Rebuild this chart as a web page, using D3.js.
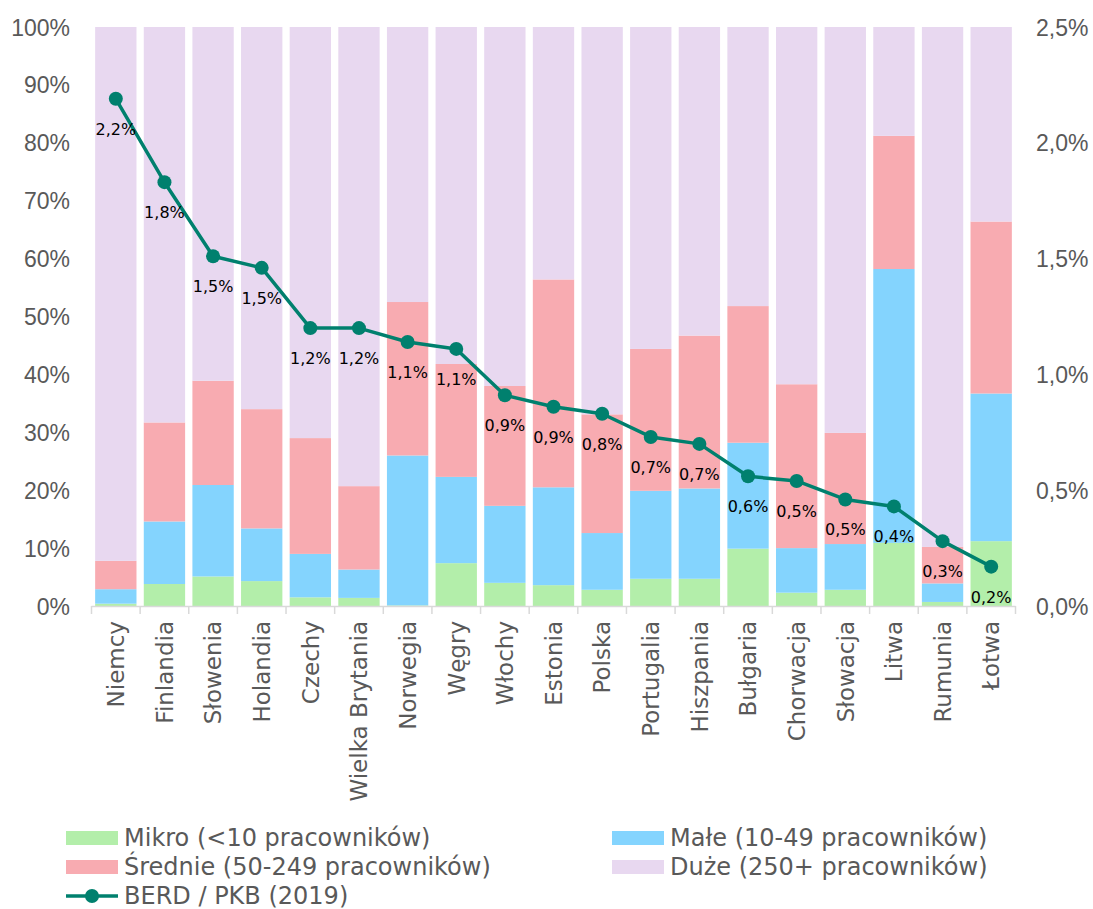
<!DOCTYPE html>
<html lang="pl">
<head>
<meta charset="utf-8">
<script src="https://cdn.jsdelivr.net/npm/d3@7"></script>
<style>
  html, body { margin: 0; padding: 0; background: #ffffff; }
  svg { display: block; }
</style>
</head>
<body>
<svg id="chart" width="1093" height="909"></svg>
<script>
// Kraje uporządkowane malejąco według BERD / PKB
const countries = ["Niemcy", "Finlandia", "Słowenia", "Holandia", "Czechy", "Wielka Brytania",
  "Norwegia", "Węgry", "Włochy", "Estonia", "Polska", "Portugalia", "Hiszpania", "Bułgaria",
  "Chorwacja", "Słowacja", "Litwa", "Rumunia", "Łotwa"];

// Udział nakładów BERD według wielkości przedsiębiorstwa (%)
const mikro   = [0.4, 3.8, 5.1, 4.3, 1.5, 1.4, 0.1, 7.4, 4.0, 3.6, 2.8, 4.7, 4.7, 9.9, 2.3, 2.8, 10.9, 0.7, 11.2];
const male    = [2.5, 10.8, 15.8, 9.1, 7.5, 4.9, 25.9, 14.9, 13.3, 16.9, 9.8, 15.2, 15.6, 18.3, 7.7, 7.9, 47.3, 3.2, 25.5];
const srednie = [4.9, 17.1, 18.0, 20.6, 20.0, 14.4, 26.5, 19.5, 20.7, 35.9, 20.5, 24.5, 26.4, 23.6, 28.3, 19.2, 23.0, 6.3, 29.7];
const duze    = [92.2, 68.3, 61.1, 66.0, 71.0, 79.3, 47.5, 58.2, 62.0, 43.6, 66.9, 55.6, 53.3, 48.2, 61.7, 70.1, 18.8, 89.8, 33.6];

// BERD / PKB (2019), % — oś prawa
const berd = [2.19, 1.83, 1.51, 1.46, 1.20, 1.20, 1.14, 1.11, 0.91, 0.86, 0.83, 0.73, 0.70, 0.56, 0.54, 0.46, 0.43, 0.28, 0.17];

const leftTicks  = [0, 10, 20, 30, 40, 50, 60, 70, 80, 90, 100];
const rightTicks = [0, 0.5, 1.0, 1.5, 2.0, 2.5];

const seriesNames = ["Mikro (<10 pracowników)", "Małe (10-49 pracowników)",
  "Średnie (50-249 pracowników)", "Duże (250+ pracowników)"];
const lineName = "BERD / PKB (2019)";

const seriesKeys = ["mikro", "male", "srednie", "duze"];
const colors = { mikro: "#b3eeaa", male: "#84d4fe", srednie: "#f8abb1", duze: "#e8d8f0" };
const lineColor = "#00806e";
const axisText = "#595959";

const table = countries.map((c, i) => ({
  country: c, mikro: mikro[i], male: male[i], srednie: srednie[i], duze: duze[i], berd: berd[i]
}));

const svg = d3.select("#chart");
const plot = { left: 91.5, right: 1015.5, top: 27, bottom: 606 };

const x = d3.scaleBand()
  .domain(countries)
  .range([plot.left, plot.right])
  .paddingInner(0.15)
  .paddingOuter(0.075);

const y = d3.scaleLinear().domain([0, 100]).range([plot.bottom, plot.top]);
const y2 = d3.scaleLinear().domain([0, 2.5]).range([plot.bottom, plot.top]);

const pl = d3.formatLocale({ decimal: ",", thousands: " ", grouping: [3], currency: ["", " zł"] });
const fmt1 = pl.format(".1f");

// Słupki skumulowane
const stacked = d3.stack().keys(seriesKeys)(table);
svg.append("g")
  .selectAll("g")
  .data(stacked)
  .join("g")
  .attr("fill", d => colors[d.key])
  .selectAll("rect")
  .data(d => d)
  .join("rect")
  .attr("x", d => x(d.data.country))
  .attr("width", x.bandwidth())
  .attr("y", d => y(d[1]))
  .attr("height", d => y(d[0]) - y(d[1]));

// Oś X: linia bazowa i znaczniki między kategoriami
const step = x.step();
const xAxisG = svg.append("g");
xAxisG.append("line")
  .attr("x1", plot.left).attr("x2", plot.right)
  .attr("y1", plot.bottom + 0.5).attr("y2", plot.bottom + 0.5)
  .attr("stroke", "#d9d9d9").attr("stroke-width", 1.5);
xAxisG.selectAll("line.tick")
  .data(d3.range(countries.length + 1))
  .join("line")
  .attr("class", "tick")
  .attr("x1", i => plot.left + i * step).attr("x2", i => plot.left + i * step)
  .attr("y1", plot.bottom).attr("y2", plot.bottom + 8)
  .attr("stroke", "#d9d9d9").attr("stroke-width", 1.5);

xAxisG.selectAll("text")
  .data(countries)
  .join("text")
  .attr("transform", d => `translate(${x(d) + x.bandwidth() / 2},${plot.bottom + 15}) rotate(-90)`)
  .attr("text-anchor", "end")
  .attr("dy", "0.36em")
  .attr("fill", axisText)
  .attr("font-family", "DejaVu Sans, Verdana, sans-serif")
  .attr("font-size", 23)
  .text(d => d);

// Oś lewa
const leftAxis = d3.axisLeft(y).tickValues(leftTicks).tickSize(0).tickPadding(0)
  .tickFormat(d => d + "%");
svg.append("g")
  .attr("transform", "translate(70,0)")
  .call(leftAxis)
  .call(g => g.select(".domain").remove())
  .call(g => g.selectAll("text")
    .attr("fill", axisText)
    .attr("font-family", "Liberation Sans, Arial, sans-serif")
    .attr("font-size", 23)
    .attr("dy", "0.35em"));

// Oś prawa
const rightAxis = d3.axisRight(y2).tickValues(rightTicks).tickSize(0).tickPadding(0)
  .tickFormat(d => fmt1(d) + "%");
svg.append("g")
  .attr("transform", "translate(1036,0)")
  .call(rightAxis)
  .call(g => g.select(".domain").remove())
  .call(g => g.selectAll("text")
    .attr("fill", axisText)
    .attr("font-family", "Liberation Sans, Arial, sans-serif")
    .attr("font-size", 23)
    .attr("dy", "0.35em"));

// Linia BERD / PKB
const cx = d => x(d.country) + x.bandwidth() / 2;
const line = d3.line().x(cx).y(d => y2(d.berd));
svg.append("path")
  .datum(table)
  .attr("fill", "none")
  .attr("stroke", lineColor)
  .attr("stroke-width", 3.5)
  .attr("stroke-linejoin", "round")
  .attr("d", line);

svg.append("g")
  .selectAll("circle")
  .data(table)
  .join("circle")
  .attr("cx", cx)
  .attr("cy", d => y2(d.berd))
  .attr("r", 7)
  .attr("fill", lineColor);

svg.append("g")
  .selectAll("text")
  .data(table)
  .join("text")
  .attr("x", cx)
  .attr("y", d => y2(d.berd) + 36)
  .attr("text-anchor", "middle")
  .attr("fill", "#000000")
  .attr("font-family", "DejaVu Sans, Verdana, sans-serif")
  .attr("font-size", 16)
  .text(d => fmt1(d.berd) + "%");

// Legenda
const legend = svg.append("g")
  .attr("font-family", "DejaVu Sans, Verdana, sans-serif")
  .attr("font-size", 24)
  .attr("fill", axisText);

const legendItems = [
  { key: "mikro", label: seriesNames[0], col: 0, row: 0 },
  { key: "male", label: seriesNames[1], col: 1, row: 0 },
  { key: "srednie", label: seriesNames[2], col: 0, row: 1 },
  { key: "duze", label: seriesNames[3], col: 1, row: 1 }
];
const colX = [66, 612];
const rowY = [838, 867, 896];

legendItems.forEach(it => {
  const gx = colX[it.col], gy = rowY[it.row];
  legend.append("rect")
    .attr("x", gx).attr("y", gy - 7)
    .attr("width", 52).attr("height", 14)
    .attr("fill", colors[it.key]);
  legend.append("text")
    .attr("x", gx + 58).attr("y", gy)
    .attr("dy", "0.35em")
    .text(it.label);
});

legend.append("line")
  .attr("x1", colX[0]).attr("x2", colX[0] + 52)
  .attr("y1", rowY[2]).attr("y2", rowY[2])
  .attr("stroke", lineColor).attr("stroke-width", 3.5);
legend.append("circle")
  .attr("cx", colX[0] + 26).attr("cy", rowY[2]).attr("r", 7)
  .attr("fill", lineColor);
legend.append("text")
  .attr("x", colX[0] + 58).attr("y", rowY[2])
  .attr("dy", "0.35em")
  .text(lineName);
</script>
</body>
</html>
